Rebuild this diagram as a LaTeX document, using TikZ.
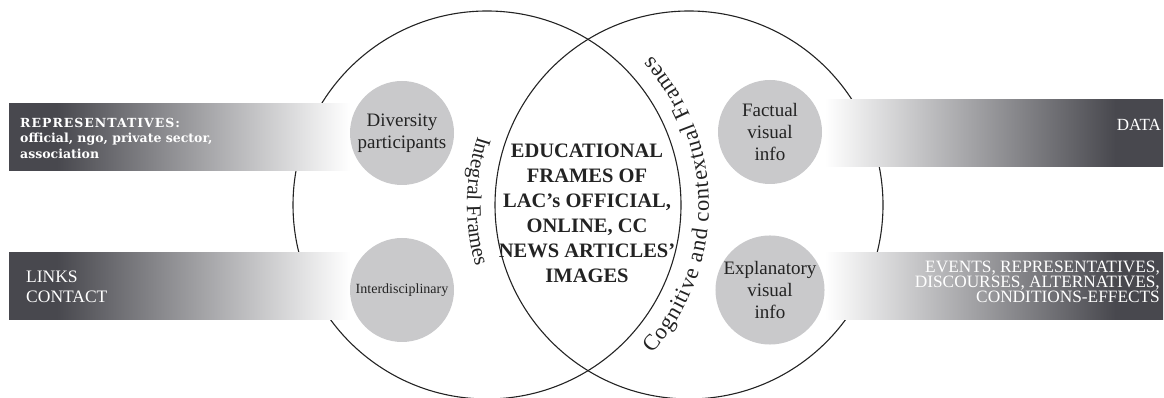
\documentclass[tikz,border=0pt]{standalone}
\usepackage{fontspec}
\setmainfont{Liberation Serif}
\newfontfamily\slabfont{DejaVu Serif}
\usetikzlibrary{decorations.text}
\definecolor{bardark}{RGB}{72,72,78}
\definecolor{discgray}{RGB}{201,201,203}
\definecolor{inkc}{RGB}{35,35,35}
\pgfdeclarehorizontalshading{fadeL}{100bp}{color(0bp)=(bardark); color(32bp)=(bardark); color(75bp)=(white); color(100bp)=(white)}
\pgfdeclarehorizontalshading{fadeR}{100bp}{color(0bp)=(white); color(25bp)=(white); color(68bp)=(bardark); color(100bp)=(bardark)}
\newcommand\arcfontL{\fontsize{21}{25}\selectfont}
\newcommand\arcfontR{\fontsize{22.5}{26}\selectfont}
\begin{document}
\begin{tikzpicture}[x=1pt,y=1pt,
  venn/.style={circle, draw=inkc, line width=1.1pt, minimum size=388pt, inner sep=0pt},
  disc/.style={circle, fill=discgray, minimum size=104pt, inner sep=0pt, align=center, text=inkc, font=\fontsize{19}{22}\selectfont},
  barl/.style={rectangle, shade, shading=fadeL, minimum height=67pt, inner sep=0pt},
  barr/.style={rectangle, shade, shading=fadeR, minimum height=67pt, inner sep=0pt},
  bartext/.style={text=white, inner sep=0pt},
  arctext/.style={decorate, decoration={text along path, text color=inkc}}
  ]
\useasboundingbox (0,0) rectangle (1164,398);
% Venn circles
\node[venn] (left) at (487,193) {};
\node[venn] (right) at (689,193) {};
% gradient bars
\node[barl, minimum width=341pt] (barLT) at (179.5,260.5) {};
\node[barl, minimum width=341pt] (barLB) at (179.5,111.5) {};
\node[barr, minimum width=338pt] (barRT) at (994,265) {};
\node[barr, minimum width=338pt] (barRB) at (994,111.5) {};
% grey discs
\node[disc] (div) at (402,265) {Diversity\\participants};
\node[disc, font=\fontsize{14}{16}\selectfont] (inter) at (402,108) {Interdisciplinary};
\node[disc] (fact) at (770,266) {Factual\\visual\\info};
\node[disc] (expl) at (770,108) {Explanatory\\visual\\info};
% bar texts
\node[bartext, anchor=north west, align=left, font=\slabfont\bfseries\fontsize{12.5}{15.5}\selectfont] (reptxt) at (20,280) {{\addfontfeatures{LetterSpace=8}\fontsize{12.5}{15.5}\selectfont REPRESENTATIVES:}\\official, ngo, private sector,\\association};
\node[bartext, anchor=north west, align=left, font=\fontsize{17.5}{20.6}\selectfont] (linktxt) at (26,127.6) {LINKS\\CONTACT};
\node[bartext, anchor=north east, font=\fontsize{17}{20}\selectfont] (datatxt) at (1161,278.6) {DATA};
\node[bartext, anchor=north east, align=right, font=\fontsize{17.3}{15}\selectfont] (evtxt) at (1160,137) {EVENTS, REPRESENTATIVES,\\DISCOURSES, ALTERNATIVES,\\CONDITIONS-EFFECTS};
% centre text
\node[anchor=north, inner sep=0pt, align=center, text=inkc, font=\bfseries\fontsize{20.5}{25}\selectfont] (edu) at (587,254.6) {EDUCATIONAL\\FRAMES OF\\LAC’s OFFICIAL,\\ONLINE, CC\\NEWS ARTICLES’\\IMAGES};
% curved labels
\path[arctext, decoration={text align=center, text={|\arcfontL|Integral Frames}}] (right.center) ++(149:222) arc[start angle=149, end angle=209, radius=222];
\path[arctext, decoration={text align=fit to path, text={|\arcfontR|Cognitive and contextual Frames}}] (left.center) ++(-42:222) arc[start angle=-42, end angle=42, radius=222];
\end{tikzpicture}
\end{document}
